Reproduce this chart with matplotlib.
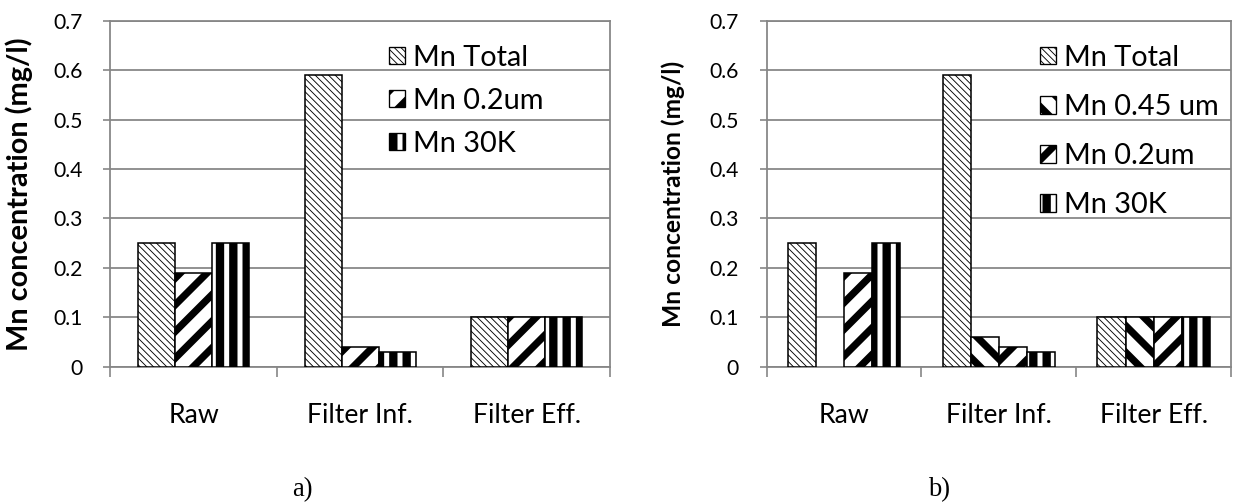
import numpy as np
import matplotlib
matplotlib.use("Agg")
import matplotlib.pyplot as plt
from matplotlib.patches import Patch, Rectangle

# ---------------- data ----------------
categories = ["Raw", "Filter Inf.", "Filter Eff."]
ytick_values = [0, 0.1, 0.2, 0.3, 0.4, 0.5, 0.6, 0.7]
ytick_labels = ["0", "0.1", "0.2", "0.3", "0.4", "0.5", "0.6", "0.7"]
ylabel = "Mn concentration (mg/l)"

# chart a)
a_names = ["Mn Total", "Mn 0.2um", "Mn 30K"]
a_total = [0.25, 0.59, 0.10]
a_02um = [0.19, 0.04, 0.10]
a_30k = [0.25, 0.03, 0.10]

# chart b)
b_names = ["Mn Total", "Mn 0.45 um", "Mn 0.2um", "Mn 30K"]
b_total = [0.25, 0.59, 0.10]
b_045um = [np.nan, 0.06, 0.10]
b_02um = [0.19, 0.04, 0.10]
b_30k = [0.25, 0.03, 0.10]

# ---------------- style ----------------
DPI = 80
W, H = 1233, 504
plt.rcParams["font.family"] = ["Lato", "DejaVu Sans"]
GRID = "#868686"
hatch_style = {
    "Mn Total": ("\\\\\\\\", 0.8),
    "Mn 0.45 um": ("\\", 6.5),
    "Mn 0.2um": ("/", 6.5),
    "Mn 30K": ("|", 7.5),
}

fig = plt.figure(figsize=(W / DPI, H / DPI), dpi=DPI)


def px_axes(x0, x1, ytop, ybot):
    return fig.add_axes([x0 / W, 1 - ybot / H, (x1 - x0) / W, (ybot - ytop) / H])


def with_hatch_lw(artist, lw):
    """Make sure the hatch line width is used whenever the artist is drawn."""
    if hasattr(artist, "set_hatch_linewidth"):
        artist.set_hatch_linewidth(lw)
    orig = artist.draw

    def draw(renderer, *args, **kwargs):
        with plt.rc_context({"hatch.linewidth": lw}):
            return orig(renderer, *args, **kwargs)

    artist.draw = draw
    return artist


class HatchHandler:
    """Legend handler drawing a hatched square with its own hatch line width."""

    def __init__(self, hatch, lw):
        self.hatch, self.lw = hatch, lw

    def legend_artist(self, legend, orig_handle, fontsize, handlebox):
        x0, y0 = handlebox.xdescent, handlebox.ydescent
        w, h = handlebox.width, handlebox.height
        with plt.rc_context({"hatch.linewidth": self.lw}):
            r = Rectangle((-x0, -y0), w, h, facecolor="white", edgecolor="black",
                          linewidth=1.2, hatch=self.hatch,
                          transform=handlebox.get_transform())
        with_hatch_lw(r, self.lw)
        handlebox.add_artist(r)
        return r


def draw_chart(ax, names, series, legend_anchor, labelspacing, ylab_x, ylab_size):
    n = len(names)
    gap = 1.5
    w = 1.0 / (n + gap)
    centers = np.arange(len(categories)) + 0.5
    handles = []
    handler_map = {}
    for i, (name, vals) in enumerate(zip(names, series)):
        hatch, hlw = hatch_style[name]
        offs = (i - (n - 1) / 2) * w
        with plt.rc_context({"hatch.linewidth": hlw}):
            bars = ax.bar(centers + offs, vals, width=w, color="white",
                          edgecolor="black", linewidth=1.4, hatch=hatch, zorder=3)
        for b in bars:
            with_hatch_lw(b, hlw)
        h = Patch(facecolor="white", edgecolor="black", hatch=hatch)
        handler_map[h] = HatchHandler(hatch, hlw)
        handles.append(h)

    ax.set_xlim(0, len(categories))
    ax.set_ylim(0, 0.7)
    ax.set_yticks(ytick_values)
    ax.set_yticklabels(ytick_labels, fontsize=19)
    ax.set_xticks(np.arange(len(categories) + 1))
    ax.set_xticklabels([])
    ax.set_xticks(centers, minor=True)
    ax.set_xticklabels(categories, minor=True, fontsize=24)
    ax.tick_params(axis="x", which="major", length=9, width=1.5, color=GRID, direction="out")
    ax.tick_params(axis="x", which="minor", length=0, pad=33)
    ax.tick_params(axis="y", length=6, width=1.5, color=GRID, pad=19)
    ax.grid(axis="y", color=GRID, linewidth=1.6, zorder=0)
    for s in ax.spines.values():
        s.set_color(GRID)
        s.set_linewidth(1.6)
    ax.set_ylabel(ylabel, fontweight="bold", fontsize=ylab_size)
    ax.yaxis.set_label_coords(ylab_x, 0.5)

    leg = ax.legend(handles, names, loc="upper left", bbox_to_anchor=legend_anchor,
                    frameon=False, fontsize=26, handlelength=0.55, handleheight=0.55,
                    handletextpad=0.28, labelspacing=labelspacing, borderpad=0,
                    borderaxespad=0, handler_map=handler_map)
    return leg


ax1 = px_axes(110.4, 610, 20.7, 366.7)
draw_chart(ax1, a_names, [a_total, a_02um, a_30k],
           legend_anchor=((389 - 110.4) / 499.6, (366.7 - 45) / 346),
           labelspacing=0.58, ylab_x=-0.155, ylab_size=26)

ax2 = px_axes(766.5, 1231.3, 20.7, 366.7)
draw_chart(ax2, b_names, [b_total, b_045um, b_02um, b_30k],
           legend_anchor=((1040 - 766.5) / 464.8, (366.7 - 45) / 346),
           labelspacing=0.8, ylab_x=-0.175, ylab_size=22)

fig.text(302 / W, 1 - 490 / H, "a)", ha="center", va="center",
         fontsize=24, family=["Liberation Serif", "DejaVu Serif"])
fig.text(939 / W, 1 - 490 / H, "b)", ha="center", va="center",
         fontsize=24, family=["Liberation Serif", "DejaVu Serif"])

fig.savefig("out.png", dpi=DPI, facecolor="white")
